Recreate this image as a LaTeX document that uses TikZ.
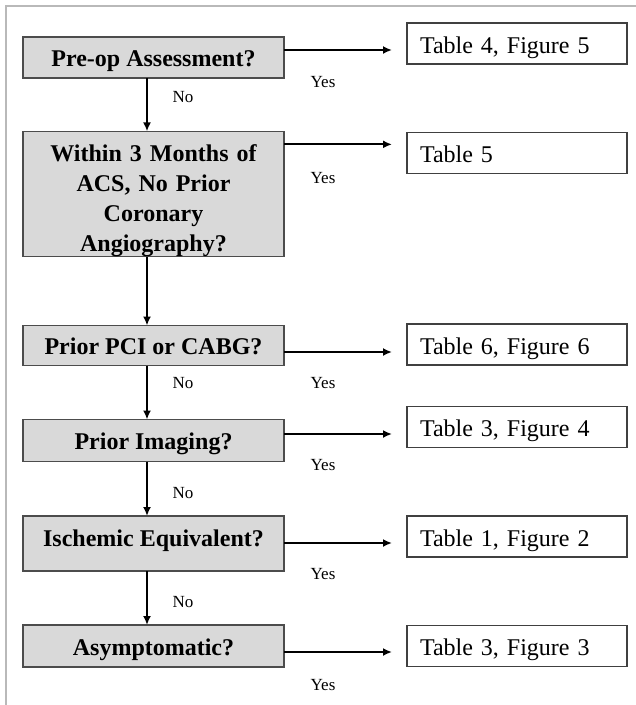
\documentclass[tikz,border=0pt]{standalone}
\usepackage{fontspec}
\setmainfont{Liberation Serif}
\usetikzlibrary{arrows.meta}

\tikzset{
  question/.style={draw=black!70, line width=1.2pt, fill=gray!30, minimum width=261pt, inner sep=0pt, outer sep=0pt, align=center, font=\fontsize{24}{30}\selectfont\bfseries},
  oneline/.style={text height=18pt, text depth=0pt},
  result/.style={draw=black!75, line width=1.2pt, fill=white, minimum height=41pt, text width=194pt, inner xsep=13pt, inner ysep=0pt, outer sep=0pt, text height=19pt, text depth=0pt, align=left, font=\fontsize{24}{29}\selectfont},
  flow/.style={line width=2pt, -{Latex[length=9pt,width=8pt]}},
  answer/.style={font=\fontsize{17}{20}\selectfont}
}

\begin{document}
\begin{tikzpicture}[x=1pt,y=-1pt]
            \useasboundingbox (0,0) rectangle (636,705);
            \draw[gray!55, line width=1.2pt] (6,705) -- (6,6) -- (636,6);

            \coordinate (spine) at (147,0);

            \node[question, oneline, minimum height=41pt] (preop) at (153.5,57.5) {Pre-op Assessment?};
            \node[question, minimum height=122pt, text width=240pt, text height=30pt] (acs) at (153.5,194) {Within 3 Months of\\ACS, No Prior\\Coronary\\Angiography?};
            \node[question, oneline, minimum height=40pt] (pci) at (153.5,345.5) {Prior PCI or CABG?};
            \node[question, oneline, minimum height=42pt] (imaging) at (153.5,440.5) {Prior Imaging?};
            \node[question, oneline, text depth=13pt, minimum height=55pt] (ischemic) at (153.5,543.5) {Ischemic Equivalent?};
            \node[question, oneline, minimum height=42pt] (asympt) at (153.5,646) {Asymptomatic?};

            \node[result] (tabA) at (517,43.5) {Table 4, Figure 5};
            \node[result] (tabB) at (517,153) {Table 5};
            \node[result] (tabC) at (517,344.5) {Table 6, Figure 6};
            \node[result] (tabD) at (517,427) {Table 3, Figure 4};
            \node[result] (tabE) at (517,536.5) {Table 1, Figure 2};
            \node[result] (tabF) at (517,646) {Table 3, Figure 3};

            % No branch, down the left column
            \draw[flow] (preop.south -| spine) -- (acs.north -| spine);
            \draw[flow] (acs.south -| spine) -- (pci.north -| spine);
            \draw[flow] (pci.south -| spine) -- (imaging.north -| spine);
            \draw[flow] (imaging.south -| spine) -- (ischemic.north -| spine);
            \draw[flow] (ischemic.south -| spine) -- (asympt.north -| spine);

            % Yes branch, out to the tables
            \coordinate (outA) at ([yshift=7.5pt]preop.east);
            \coordinate (outB) at ([yshift=-13pt]acs.north east);
            \coordinate (outC) at ([yshift=-6.5pt]pci.east);
            \coordinate (outD) at ([yshift=6.5pt]imaging.east);
            \coordinate (outE) at ([yshift=0.5pt]ischemic.east);
            \coordinate (outF) at ([yshift=-6pt]asympt.east);

            \draw[flow, shorten >=15pt] (outA) -- (outA -| tabA.west);
            \draw[flow, shorten >=15pt] (outB) -- (outB -| tabB.west);
            \draw[flow, shorten >=15pt] (outC) -- (outC -| tabC.west);
            \draw[flow, shorten >=15pt] (outD) -- (outD -| tabD.west);
            \draw[flow, shorten >=15pt] (outE) -- (outE -| tabE.west);
            \draw[flow, shorten >=15pt] (outF) -- (outF -| tabF.west);

            \node[answer] (noA) at (183,97) {No};
            \node[answer] (noC) at (183,383) {No};
            \node[answer] (noD) at (183,493) {No};
            \node[answer] (noE) at (183,602) {No};

            \node[answer] (yesA) at (323,82) {Yes};
            \node[answer] (yesB) at (323,178) {Yes};
            \node[answer] (yesC) at (323,383) {Yes};
            \node[answer] (yesD) at (323,465) {Yes};
            \node[answer] (yesE) at (323,574) {Yes};
            \node[answer] (yesF) at (323,685) {Yes};
        \end{tikzpicture}
\end{document}
